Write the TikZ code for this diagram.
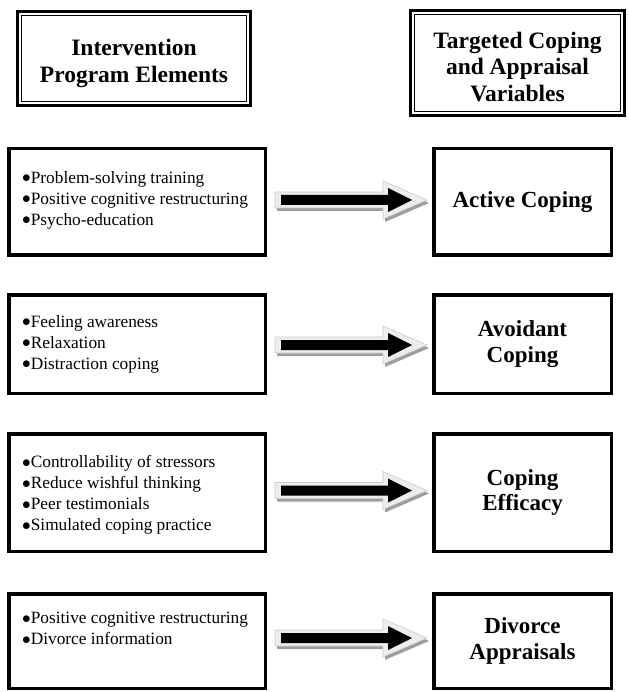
\documentclass[tikz,border=0pt]{standalone}
\usepackage{fontspec}
\setmainfont{Liberation Serif}
\usetikzlibrary{calc,positioning}

\tikzset{
  headbox/.style={draw,line width=2.7pt,anchor=north west},
  headtext/.style={align=center,inner sep=0pt,font=\fontsize{23.5}{26.5}\selectfont\bfseries},
  elembox/.style={draw,line width=3.5pt,minimum width=256.5pt,anchor=north west},
  elemtext/.style={anchor=north west,inner sep=0pt,align=left,
    font=\fontsize{17.3}{21}\selectfont},
  varbox/.style={draw,line width=3.5pt,minimum width=177.5pt,anchor=north west,
    align=center,font=\fontsize{23}{25.5}\selectfont\bfseries},
  arrowshadow/.style={fill=black!38},
  arrowrim/.style={fill=black!7,draw=black!20,line width=0.6pt},
  arrowcore/.style={fill=black}
}

\newcommand{\itemdot}{\raisebox{0.3pt}{$\bullet$}}

% block arrow from #1 (tail) to #2 (tip)
\newcommand{\blockarrow}[2]{%
  \fill[arrowshadow] ($(#1)+(-4,11)$) -- ($(#2)+(-27,11)$) -- ($(#2)+(-27,22)$)
    -- ($(#2)+(17,3)$) -- ($(#2)+(-27,-16)$) -- ($(#2)+(-27,-5)$)
    -- ($(#1)+(-4,-5)$) -- cycle;
  \filldraw[arrowrim] ($(#1)+(-6,-8)$) -- ($(#2)+(-29,-8)$) -- ($(#2)+(-29,-19)$)
    -- ($(#2)+(15,0)$) -- ($(#2)+(-29,19)$) -- ($(#2)+(-29,8)$)
    -- ($(#1)+(-6,8)$) -- cycle;
  \fill[arrowcore] ($(#1)+(0,-5)$) -- ($(#2)+(-24,-5)$) -- ($(#2)+(-24,-12)$)
    -- (#2) -- ($(#2)+(-24,12)$) -- ($(#2)+(-24,5)$)
    -- ($(#1)+(0,5)$) -- cycle;
}

\begin{document}
\begin{tikzpicture}[x=1pt,y=-1pt]
\useasboundingbox (0,0) rectangle (628,692);

% headers
\node[headbox,minimum width=233.3pt,minimum height=94.3pt] (h1) at (16,10) {};
\node[headbox,minimum width=214.3pt,minimum height=105.3pt] (h2) at (409,9) {};
\draw[line width=1.3pt] ($(h1.north west)+(5.3,5.3)$) rectangle ($(h1.south east)+(-5.3,-5.3)$);
\draw[line width=1.3pt] ($(h2.north west)+(5.3,5.3)$) rectangle ($(h2.south east)+(-5.3,-5.3)$);
\node[headtext] (h1txt) at ($(h1.center)+(0,5)$) {Intervention\\Program Elements};
\node[headtext] (h2txt) at ($(h2.center)+(0,4)$) {Targeted Coping\\and Appraisal\\Variables};

% row 1
\node[elembox,minimum height=106.5pt] (l1) at (7,147) {};
\node[elemtext] (t1) at ($(l1.north west)+(15,24)$)
  {\itemdot Problem-solving training\\\itemdot Positive cognitive restructuring\\\itemdot Psycho-education};
\node[varbox,minimum height=106.5pt] (r1) at (432,147) {Active Coping};

% row 2
\node[elembox,minimum height=98.5pt] (l2) at (7,293) {};
\node[elemtext] (t2) at ($(l2.north west)+(15,22)$)
  {\itemdot Feeling awareness\\\itemdot Relaxation\\\itemdot Distraction coping};
\node[varbox,minimum height=98.5pt] (r2) at (432,293) {Avoidant\\Coping};

% row 3
\node[elembox,minimum height=117.5pt] (l3) at (7,432) {};
\node[elemtext] (t3) at ($(l3.north west)+(15,23)$)
  {\itemdot Controllability of stressors\\\itemdot Reduce wishful thinking\\\itemdot Peer testimonials\\\itemdot Simulated coping practice};
\node[varbox,minimum height=117.5pt] (r3) at (432,432) {Coping\\Efficacy};

% row 4
\node[elembox,minimum height=94.5pt] (l4) at (7,592) {};
\node[elemtext] (t4) at ($(l4.north west)+(15,20)$)
  {\itemdot Positive cognitive restructuring\\\itemdot Divorce information};
\node[varbox,minimum height=94.5pt] (r4) at (432,592) {Divorce\\Appraisals};

% arrows
\coordinate (s1) at ($(l1.east)+(14,-2)$);
\coordinate (e1) at ($(r1.west)+(-20,-2)$);
\coordinate (s2) at ($(l2.east)+(14,1)$);
\coordinate (e2) at ($(r2.west)+(-20,1)$);
\coordinate (s3) at ($(l3.east)+(14,-2)$);
\coordinate (e3) at ($(r3.west)+(-20,-2)$);
\coordinate (s4) at ($(l4.east)+(14,-3)$);
\coordinate (e4) at ($(r4.west)+(-20,-3)$);
\blockarrow{s1}{e1}
\blockarrow{s2}{e2}
\blockarrow{s3}{e3}
\blockarrow{s4}{e4}
\end{tikzpicture}
\end{document}
